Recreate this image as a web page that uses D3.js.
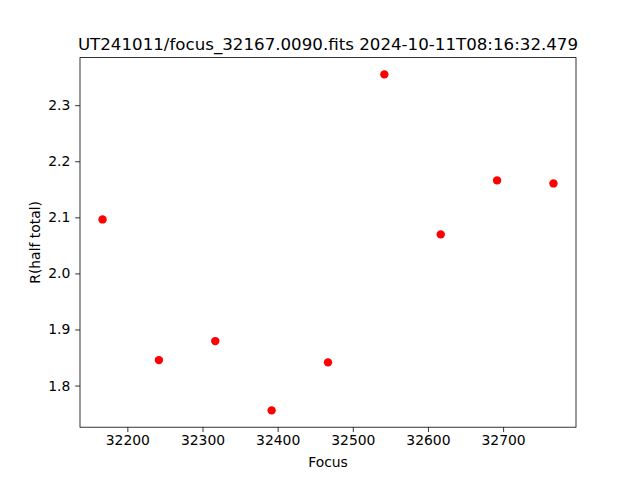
<!DOCTYPE html>
<html><head><meta charset="utf-8">
<script src="https://cdn.jsdelivr.net/npm/d3@7"></script>
<style>body{margin:0;background:#fff}svg{display:block}text{font-family:"DejaVu Sans",sans-serif}</style>
</head><body>
<script>
const titleText = "UT241011/focus_32167.0090.fits 2024-10-11T08:16:32.479";
const focus = [32167, 32242, 32317, 32392, 32467, 32542, 32617, 32692, 32767];
const rHalf = [2.0963, 1.8454, 1.8793, 1.7557, 1.8413, 2.3549, 2.0696, 2.1659, 2.1605];
const xTicks = [32200, 32300, 32400, 32500, 32600, 32700];
const yTicks = [1.8, 1.9, 2.0, 2.1, 2.2, 2.3];

const W = 640, H = 480;
const L = 80, R = 576, T = 57.6, B = 427.2;
const svg = d3.select("body").append("svg").attr("width", W).attr("height", H);

function pad(ext){ const d = ext[1]-ext[0]; return [ext[0]-0.05*d, ext[1]+0.05*d]; }
const x = d3.scaleLinear().domain(pad(d3.extent(focus))).range([L, R]);
const y = d3.scaleLinear().domain(pad(d3.extent(rHalf))).range([B, T]);

const xAxis = svg.append("g").attr("transform", `translate(0,${B})`)
  .call(d3.axisBottom(x).tickValues(xTicks).tickFormat(d3.format("d")).tickSize(4.86).tickPadding(3.5));
const yAxis = svg.append("g").attr("transform", `translate(${L},0)`)
  .call(d3.axisLeft(y).tickValues(yTicks).tickFormat(d3.format(".1f")).tickSize(4.86).tickPadding(4.86));
[xAxis, yAxis].forEach(g => {
  g.select(".domain").remove();
  g.selectAll(".tick line").attr("stroke", "#000").attr("stroke-width", 0.8);
  g.selectAll(".tick text").attr("font-size", "13.9px").attr("fill", "#000").attr("font-family", "DejaVu Sans");
});

svg.append("rect").attr("x", L).attr("y", T).attr("width", R-L).attr("height", B-T)
  .attr("fill", "none").attr("stroke", "#000").attr("stroke-width", 0.8);

svg.append("g").selectAll("circle").data(focus).join("circle")
  .attr("cx", (d) => x(d)).attr("cy", (d, i) => y(rHalf[i])).attr("r", 4.2).attr("fill", "#ff0000");

svg.append("text").attr("x", (L+R)/2).attr("y", 50).attr("text-anchor", "middle")
  .attr("font-size", "16.67px").text(titleText);
svg.append("text").attr("x", (L+R)/2).attr("y", 467).attr("text-anchor", "middle")
  .attr("font-size", "13.9px").text("Focus");
svg.append("text").attr("transform", `translate(40,${(T+B)/2}) rotate(-90)`).attr("text-anchor", "middle")
  .attr("font-size", "13.9px").text("R(half total)");
</script>
</body></html>
